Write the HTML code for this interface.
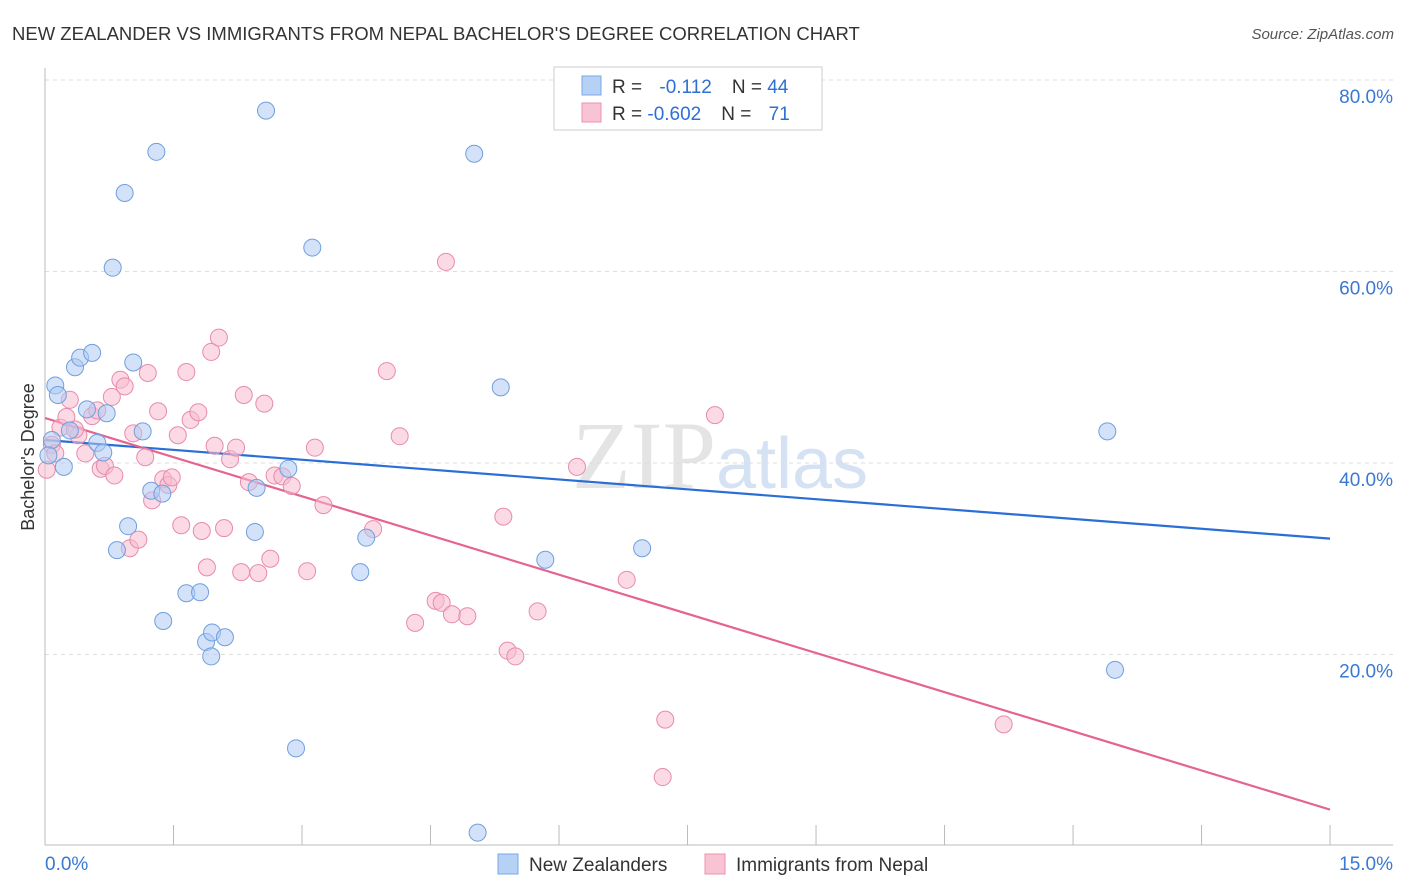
<!DOCTYPE html>
<html><head><meta charset="utf-8"><style>
body{margin:0;background:#fff;font-family:"Liberation Sans",sans-serif;}
svg{display:block}
</style></head><body>
<svg id="chart" width="1406" height="892" xmlns="http://www.w3.org/2000/svg">
<text x="12" y="40" font-size="18.5" fill="#333">NEW ZEALANDER VS IMMIGRANTS FROM NEPAL BACHELOR'S DEGREE CORRELATION CHART</text>
<text x="1394" y="39" font-size="15" fill="#555" font-style="italic" text-anchor="end">Source: ZipAtlas.com</text>
<text x="720" y="488" font-size="96" fill="#e4e4e4" text-anchor="middle" font-family="Liberation Serif,serif">ZIP<tspan fill="#d5e2f3" font-family="Liberation Sans,sans-serif" font-size="72">atlas</tspan></text>
<g id="grid"></g>
<g id="axes"></g>
<g id="lines"></g>
<g id="pts"></g>
<text transform="translate(34,457) rotate(-90)" font-size="18" fill="#333" text-anchor="middle">Bachelor's Degree</text>
<g>
<rect x="554" y="67" width="268" height="63" fill="#fff" stroke="#ccc"/>
<rect x="582" y="76" width="19" height="19" fill="#b5d1f5" stroke="#7aa8e6"/>
<rect x="582" y="103" width="19" height="19" fill="#f8c3d3" stroke="#eb93b0"/>
<text x="612" y="93" font-size="19" fill="#333">R = <tspan fill="#2d6fd5" dx="12">-0.112</tspan><tspan dx="20" fill="#333">N = </tspan><tspan fill="#2d6fd5">44</tspan></text>
<text x="612" y="120" font-size="19" fill="#333">R = <tspan fill="#2d6fd5">-0.602</tspan><tspan dx="20" fill="#333">N = </tspan><tspan fill="#2d6fd5" dx="12">71</tspan></text>
</g>
<g>
<rect x="498" y="854" width="20" height="20" fill="#b5d1f5" stroke="#7aa8e6"/>
<text x="529" y="871" font-size="19" fill="#333">New Zealanders</text>
<rect x="705" y="854" width="20" height="20" fill="#f8c3d3" stroke="#eb93b0"/>
<text x="736" y="871" font-size="19" fill="#333">Immigrants from Nepal</text>
</g>
</svg>
<script>
const xTickLabels=["0.0%","15.0%"];
const yTicks=[20,40,60,80];
const blueX=[0.08,0.12,0.15,0.22,0.29,0.35,0.41,0.49,0.55,0.61,0.68,0.72,0.79,0.84,0.93,0.97,1.03,1.14,1.24,1.30,1.37,1.38,1.65,1.81,1.88,1.94,1.95,2.10,2.45,2.47,2.58,2.84,2.93,3.12,3.68,3.75,5.01,5.05,5.32,5.84,6.97,12.40,12.49,0.04];
const blueY=[42.4,48.1,47.1,39.6,43.4,50.0,51.0,45.6,51.5,42.1,41.1,45.2,60.4,30.9,68.2,33.4,50.5,43.3,37.1,72.5,36.8,23.5,26.4,26.5,21.3,19.8,22.3,21.8,32.8,37.4,76.8,39.4,10.2,62.5,28.6,32.2,72.3,1.4,47.9,29.9,31.1,43.3,18.4,40.8];
const pinkX=[0.02,0.08,0.18,0.25,0.29,0.39,0.47,0.55,0.61,0.65,0.70,0.78,0.81,0.88,0.93,0.99,1.09,1.03,1.17,1.20,1.25,1.32,1.38,1.44,1.48,1.55,1.59,1.65,1.70,1.79,1.83,1.89,1.94,1.98,2.03,2.09,2.16,2.23,2.29,2.32,2.38,2.49,2.56,2.63,2.68,2.77,2.88,3.06,3.15,3.25,3.83,3.99,4.14,4.32,4.56,4.63,4.68,4.75,4.93,5.35,5.40,5.49,5.75,6.21,6.79,7.24,7.21,7.82,11.19,0.12,0.35];
const pinkY=[39.3,41.9,43.7,44.8,46.6,42.9,41.0,44.9,45.5,39.4,39.7,46.9,38.7,48.7,48.0,31.1,32.0,43.1,40.6,49.4,36.1,45.4,38.3,37.7,38.5,42.9,33.5,49.5,44.5,45.3,32.9,29.1,51.6,41.8,53.1,33.2,40.4,41.6,28.6,47.1,38.0,28.5,46.2,30.0,38.7,38.6,37.6,28.7,41.6,35.6,33.1,49.6,42.8,23.3,25.6,25.4,61.0,24.2,24.0,34.4,20.4,19.8,24.5,39.6,27.8,13.2,7.2,45.0,12.7,41.0,43.5];
const blueFit=[42.4,32.1];
const pinkFit=[44.7,3.8];
const NS="http://www.w3.org/2000/svg";
const X=v=>45+v*85.67, Y=v=>846-v*9.575;
function mk(p,t,a){const e=document.createElementNS(NS,t);for(const k in a)e.setAttribute(k,a[k]);p.appendChild(e);return e;}
const grid=document.getElementById('grid'),axes=document.getElementById('axes');
yTicks.forEach(t=>{
 const l=mk(grid,'line',{x1:45,x2:1393,y1:Y(t),y2:Y(t),stroke:'#ddd','stroke-dasharray':'4,4'});
 
 
 const tx=mk(grid,'text',{x:1393,y:Y(t)+23,'font-size':19,fill:'#3a78d4','text-anchor':'end'});
 tx.textContent=t.toFixed(1)+'%';
 
 
});
mk(axes,'line',{x1:45,x2:45,y1:68,y2:845,stroke:'#bbb'});
mk(axes,'line',{x1:45,x2:1393,y1:845,y2:845,stroke:'#bbb'});
for(let i=0;i<=10;i++){const t=mk(axes,'line',{x1:X(i*1.5),x2:X(i*1.5),y1:825,y2:845,stroke:'#bbb'});
 
 }
const xl0=mk(axes,'text',{x:45,y:870,'font-size':19,fill:'#3a78d4'});xl0.textContent=xTickLabels[0];


const xl1=mk(axes,'text',{x:1393,y:870,'font-size':19,fill:'#3a78d4','text-anchor':'end'});xl1.textContent=xTickLabels[1];


const pts=document.getElementById('pts');
function dots(xs,ys,f,s,n){xs.forEach((x,i)=>{const c=mk(pts,'circle',{cx:X(x),cy:Y(ys[i]),r:8.5,fill:f,'fill-opacity':0.55,stroke:s,'stroke-width':1});
 
 });}
dots(pinkX,pinkY,'#f7bcd0','#e98aab','nepal-point');
dots(blueX,blueY,'#aecbf2','#6f9fe0','new-zealander-point');
const lines=document.getElementById('lines');
const bl=mk(lines,'line',{x1:X(0),y1:Y(blueFit[0]),x2:X(15),y2:Y(blueFit[1]),stroke:'#2a6fd6','stroke-width':2.2});


const pl=mk(lines,'line',{x1:X(0),y1:Y(pinkFit[0]),x2:X(15),y2:Y(pinkFit[1]),stroke:'#e5638f','stroke-width':2.2});


</script>
</body></html>
